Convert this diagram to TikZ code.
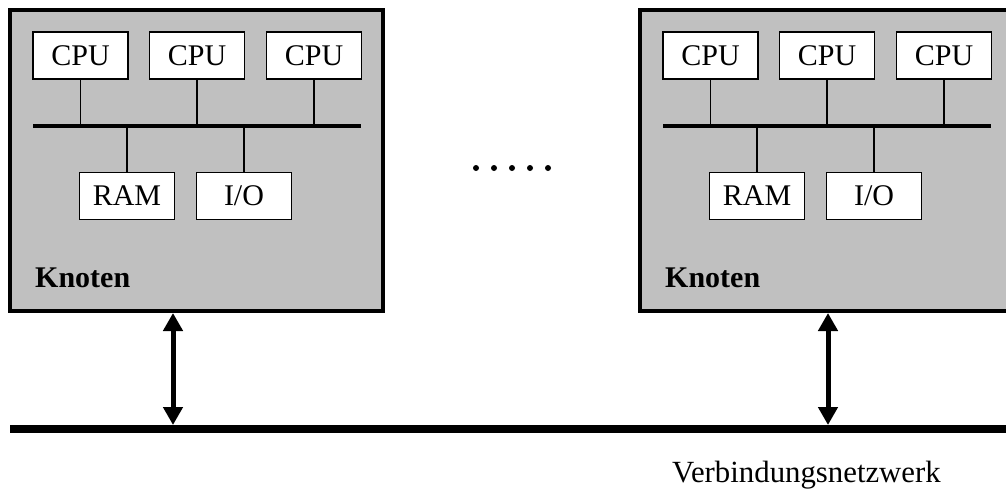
\documentclass[tikz,border=0pt]{standalone}
\usepackage{fontspec}
\setmainfont{Liberation Serif}
\usetikzlibrary{arrows.meta}
\definecolor{nodegray}{RGB}{192,192,192}
\tikzset{
  knoten/.style={draw, line width=4pt, fill=nodegray, minimum width=373pt, minimum height=301pt, inner sep=0pt},
  unit/.style={draw, line width=1.3pt, fill=white, minimum width=95pt, minimum height=47pt, inner sep=0pt,
    font=\fontsize{30pt}{36pt}\selectfont},
  bus/.style={line width=4pt},
  tap/.style={line width=1.3pt},
  net/.style={line width=8pt},
  link/.style={line width=5pt, {Triangle[length=18pt,width=19pt]}-{Triangle[length=18pt,width=19pt]}},
  lbl/.style={inner sep=0pt, font=\fontsize{30pt}{36pt}\selectfont},
  dot/.style={circle, fill=black, minimum size=6pt, inner sep=0pt}
}
\begin{document}
\begin{tikzpicture}[x=1pt,y=-1pt]
\useasboundingbox (0,0) rectangle (1006,488);

% two computing nodes, the second one shifted by 630pt
\foreach \n/\dx in {L/0, R/630}{
  \begin{scope}[xshift=\dx pt]
    \node[knoten] (\n) at (196.5,160.5) {};
    \node[unit] (\n-cpu1) at (80.5,55.5) {CPU};
    \node[unit] (\n-cpu2) at (197,55.5) {CPU};
    \node[unit] (\n-cpu3) at (314,55.5) {CPU};
    \node[unit] (\n-ram) at (127,196) {RAM};
    \node[unit] (\n-io) at (244,196) {I/O};
    \coordinate (\n-busw) at (33,126);
    \coordinate (\n-buse) at (361,126);
    \draw[bus] (\n-busw) -- (\n-buse);
    \foreach \u in {cpu1,cpu2,cpu3}{
      \draw[tap] (\n-\u.south) -- (\n-\u.south |- \n-busw);
    }
    \foreach \u in {ram,io}{
      \draw[tap] (\n-\u.north) -- (\n-\u.north |- \n-busw);
    }
    \node[lbl, anchor=base west, font=\fontsize{30pt}{36pt}\selectfont\bfseries] (\n-lbl) at (35,287) {Knoten};
  \end{scope}
}

% interconnection network
\coordinate (netw) at (10,429);
\coordinate (nete) at (1006,429);
\draw[net] (netw) -- (nete);
\coordinate (aL) at (173,425);
\coordinate (aR) at (828,425);
\draw[link] (L.south -| aL) -- (aL);
\draw[link] (R.south -| aR) -- (aR);

% ellipsis between the nodes
\foreach \i/\x in {1/476,2/494,3/512,4/530,5/548}{
  \node[dot] (d\i) at (\x,168) {};
}

\node[lbl, anchor=base west, font=\fontsize{30.8pt}{36pt}\selectfont] (netlbl) at (672,482) {Verbindungsnetzwerk};
\end{tikzpicture}
\end{document}
